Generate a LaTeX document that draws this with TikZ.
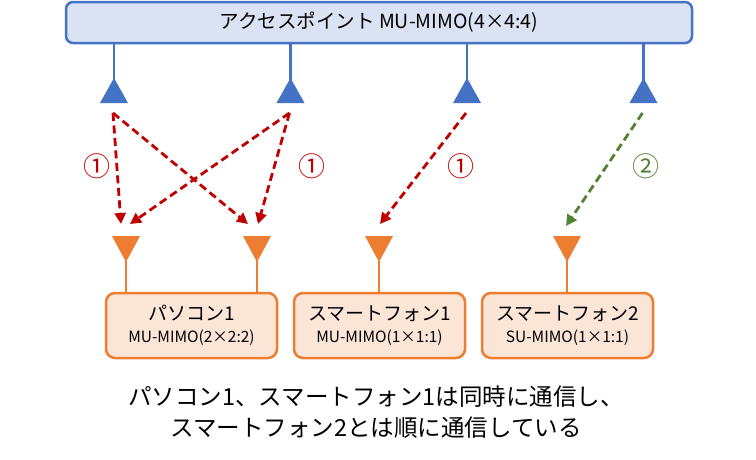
\documentclass[tikz,border=0pt]{standalone}
\usepackage{fontspec}
\setmainfont{Noto Sans CJK JP}
\usetikzlibrary{arrows.meta}
\definecolor{apblue}{HTML}{4472C4}
\definecolor{apfill}{HTML}{DAE3F3}
\definecolor{devorange}{HTML}{ED7D31}
\definecolor{devfill}{HTML}{FBE5D6}
\definecolor{murred}{HTML}{C00000}
\definecolor{sugreen}{HTML}{548235}
\begin{document}
\begin{tikzpicture}[x=1pt, y=-1pt,
    apbox/.style={draw=apblue, fill=apfill, line width=2.5pt, rounded corners=7pt,
      minimum width=626pt, minimum height=41pt, font=\fontsize{19.5}{22}\selectfont},
    devbox/.style={draw=devorange, fill=devfill, line width=2.5pt, rounded corners=9pt,
      minimum width=171pt, minimum height=65pt, align=center,
      font=\fontsize{19}{22}\selectfont},
    subfont/.style={},
    apline/.style={apblue, line width=2.5pt},
    devline/.style={devorange, line width=2.5pt},
    wave/.style={line width=2.8pt, dash pattern=on 8pt off 4.5pt,
      -{Triangle[length=11pt, width=11pt]}},
    num/.style={font=\fontsize{27}{29}\selectfont}]
  \useasboundingbox (0,0) rectangle (756,459);
  % access point
  \node[apbox] (ap) at (379,22.5) {アクセスポイント MU-MIMO(4×4:4)};
  \foreach \x [count=\i] in {114,290.5,467,643.5}{
    \draw[apline] (ap.south -| \x,0) -- (\x,80);
    \fill[apblue] (\x,78) -- (\x+14,103) -- (\x-14,103) -- cycle;
    \coordinate (tx\i) at (\x-1,113);
  }
  % devices
  \node[devbox] (pc) at (191.5,325.5)
    {パソコン1\\{\fontsize{15.5}{17}\selectfont MU-MIMO(2×2:2)}};
  \node[devbox] (sp1) at (379.5,325.5)
    {スマートフォン1\\{\fontsize{15.5}{17}\selectfont MU-MIMO(1×1:1)}};
  \node[devbox] (sp2) at (567.5,325.5)
    {スマートフォン2\\{\fontsize{15.5}{17}\selectfont SU-MIMO(1×1:1)}};
  \foreach \x [count=\i] in {126,257,379,567}{
    \draw[devline] (\x,261) -- (\x,292);
    \fill[devorange] (\x-14,236) -- (\x+14,236) -- (\x,262) -- cycle;
  }
  \coordinate (pcA) at (121,224);
  \coordinate (pcB) at (130,224);
  \coordinate (pcC) at (248,224);
  \coordinate (pcD) at (258,224);
  \coordinate (spA) at (380,224);
  \coordinate (spB) at (566,226);
  % streams
  \draw[wave, murred] (tx1) -- (pcA);
  \draw[wave, murred] (tx1) -- (pcC);
  \draw[wave, murred] (tx2) -- (pcB);
  \draw[wave, murred] (tx2) -- (pcD);
  \draw[wave, murred] (tx3) -- (spA);
  \draw[wave, sugreen] (tx4) -- (spB);
  \node[num, murred] (n1) at (97,166) {①};
  \node[num, murred] (n2) at (312,166) {①};
  \node[num, murred] (n3) at (461,166) {①};
  \node[num, sugreen] (n4) at (646,166) {②};
  % caption
  \node[align=center, font=\fontsize{23.5}{31}\selectfont] (cap) at (376,412)
    {パソコン1、スマートフォン1は同時に通信し、\\スマートフォン2とは順に通信している};
\end{tikzpicture}
\end{document}
